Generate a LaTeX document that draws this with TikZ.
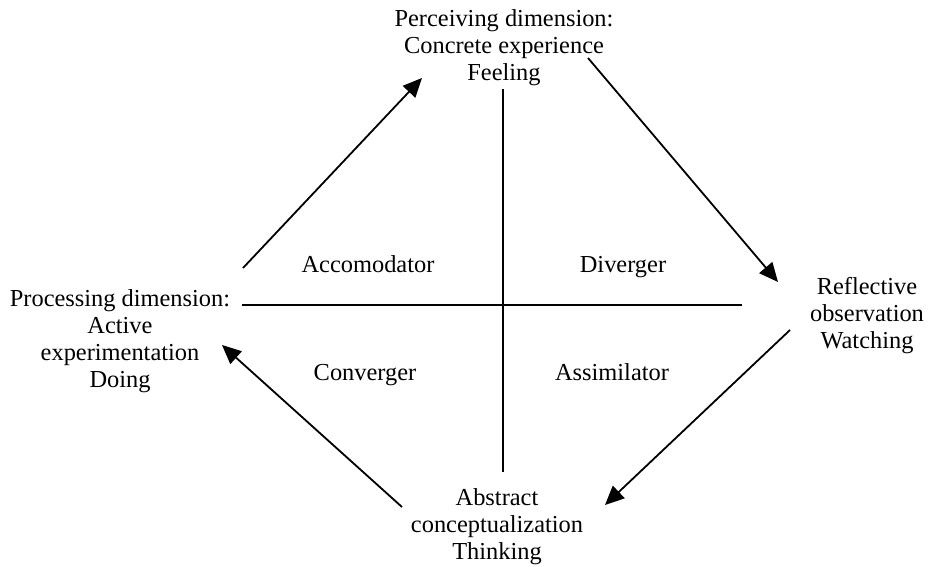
\documentclass[tikz,border=0pt]{standalone}
\usepackage{fontspec}
\setmainfont{Liberation Serif}
\usetikzlibrary{arrows.meta}

\begin{document}
\begin{tikzpicture}[x=0.5pt, y=-0.5pt, >={Triangle[length=9.5pt,width=8.5pt]},
  line width=0.9pt,
  every node/.style={font=\fontsize{12.2}{13.5}\selectfont, align=center, inner sep=0pt}]
  \useasboundingbox (0,0) rectangle (931,567);

  % The four poles of the cycle
  \node [anchor=north] (feel) at (504,9) {Perceiving dimension:\\Concrete experience\\Feeling};
  \node [anchor=north] (watch) at (867,276) {Reflective\\observation\\Watching};
  \node [anchor=north] (think) at (497,488) {Abstract\\conceptualization\\Thinking};
  \node [anchor=north] (do) at (120,289) {Processing dimension:\\Active\\experimentation\\Doing};

  % The four learning styles
  \node [anchor=base] (acc) at (368,272) {Accomodator};
  \node [anchor=base] (div) at (623,272) {Diverger};
  \node [anchor=base] (con) at (365,380) {Converger};
  \node [anchor=base] (ass) at (612,380) {Assimilator};

  % The ends of the vertical axis
  \coordinate (vt) at (503,89);
  \coordinate (vb) at (503,472);
  % The ends of the horizontal axis
  \coordinate (hl) at (242,305);
  \coordinate (hr) at (742,305);

  % Ends of the cycle arrows
  \coordinate (a1) at (243,268);
  \coordinate (b1) at (422,78);
  \coordinate (a2) at (588,58);
  \coordinate (b2) at (778,282);
  \coordinate (a3) at (790,330);
  \coordinate (b3) at (605,505);
  \coordinate (a4) at (402,507);
  \coordinate (b4) at (222,345);

  % The axes
  \draw (vt) -- (vb);
  \draw (hl) -- (hr);

  % The cycle
  \draw [->] (a1) -- (b1);
  \draw [->] (a2) -- (b2);
  \draw [->] (a3) -- (b3);
  \draw [->] (a4) -- (b4);
\end{tikzpicture}
\end{document}
